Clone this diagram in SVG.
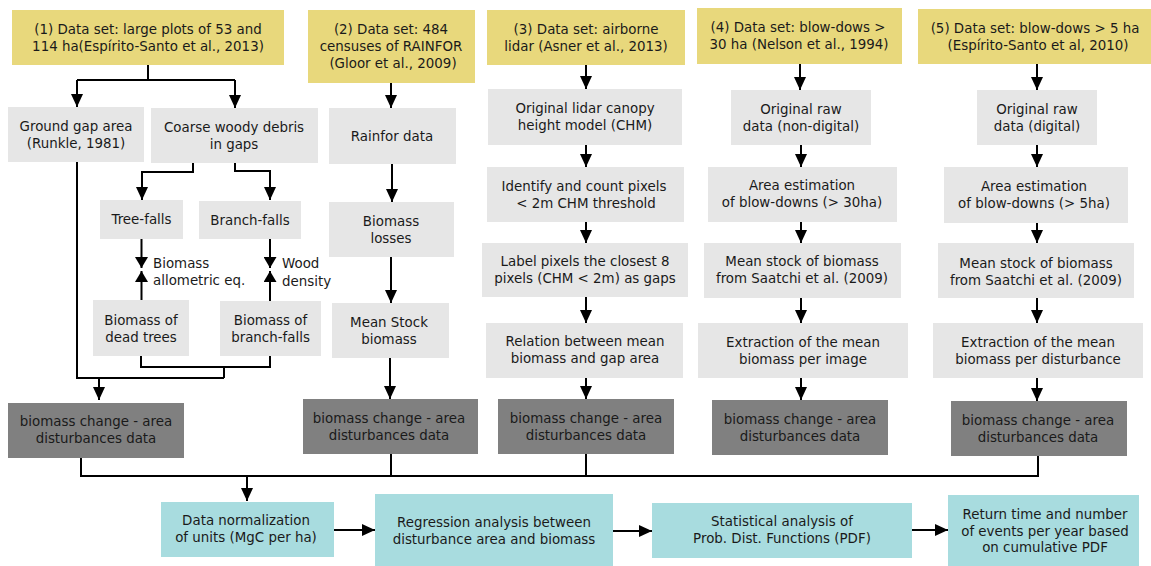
<svg xmlns="http://www.w3.org/2000/svg" width="1151" height="566" viewBox="0 0 1151 566">
<style>
text{font-family:"DejaVu Sans","Liberation Sans",sans-serif;font-size:13.4px;fill:#1a1a1a;text-anchor:middle;dominant-baseline:central}
.lab{text-anchor:start}
.y{fill:#e8d87c}
.g{fill:#e6e6e6}
.d{fill:#808080}
.t{fill:#a8dcdf}
.c{fill:none;stroke:#000;stroke-width:2}
.a{marker-end:url(#arr)}
.s{marker-end:url(#arrS)}
</style>
<defs>
<marker id="arr" viewBox="0 0 13 12" refX="13" refY="6" markerWidth="13" markerHeight="12" markerUnits="userSpaceOnUse" orient="auto"><path d="M0,0 L13,6 L0,12 z" fill="#000"/></marker>
<marker id="arrS" viewBox="0 0 11 13" refX="11" refY="6.5" markerWidth="11" markerHeight="13" markerUnits="userSpaceOnUse" orient="auto"><path d="M0,0 L11,6.5 L0,13 z" fill="#000"/></marker>
</defs>
<rect width="1151" height="566" fill="#fff"/>

<g id="connectors">
<path class="c" d="M148,65 V80 M77,80 H235"/>
<path class="c a" d="M77,80 V107"/>
<path class="c a" d="M235,80 V108"/>
<path class="c a" d="M193,163 V172 H142 V200"/>
<path class="c a" d="M235,163 V171 H270 V200"/>
<path class="c s" d="M141.5,239 V268"/>
<path class="c s" d="M141.5,300 V271"/>
<path class="c s" d="M270,239 V268"/>
<path class="c s" d="M270,301 V271"/>
<path class="c" d="M141,356 V367 H270 V356 M224,367 V378 M77,162 V378 H224"/>
<path class="c a" d="M99,378 V400"/>
<path class="c a" d="M391,83 V108"/>
<path class="c a" d="M392,164 V202"/>
<path class="c a" d="M391,257 V303"/>
<path class="c a" d="M390,358 V399"/>
<path class="c a" d="M586,65 V89"/>
<path class="c a" d="M586,145 V167"/>
<path class="c a" d="M586,222 V243"/>
<path class="c a" d="M586,297 V323"/>
<path class="c a" d="M586,378 V399"/>
<path class="c a" d="M800,64 V90"/>
<path class="c a" d="M801,145 V167"/>
<path class="c a" d="M801,222 V243"/>
<path class="c a" d="M801,298 V323"/>
<path class="c a" d="M801,378 V400"/>
<path class="c a" d="M1037,64 V90"/>
<path class="c a" d="M1037,145 V167"/>
<path class="c a" d="M1037,223 V243"/>
<path class="c a" d="M1037,298 V323"/>
<path class="c a" d="M1037,378 V401"/>
<path class="c" d="M81,457 V476 H1038 V456 M391,454 V476 M586,454 V476"/>
<path class="c a" d="M247,476 V501"/>
<path class="c a" d="M334,530 H375"/>
<path class="c a" d="M613,531 H652"/>
<path class="c a" d="M912,530 H948"/>
<text class="lab" x="153" y="263">Biomass</text>
<text class="lab" x="153" y="280">allometric eq.</text>
<text class="lab" x="282" y="263">Wood</text>
<text class="lab" x="282" y="281">density</text>
</g>

<g id="ds1"><rect class="y" x="12" y="10" width="272" height="55"/><text x="148" y="29">(1) Data set: large plots of 53 and</text><text x="148" y="46">114 ha(Espírito-Santo et al., 2013)</text></g>
<g id="ground"><rect class="g" x="8" y="107" width="136" height="55"/><text x="76" y="126">Ground gap area</text><text x="76" y="143">(Runkle, 1981)</text></g>
<g id="cwd"><rect class="g" x="151" y="108" width="167" height="55"/><text x="234" y="127">Coarse woody debris</text><text x="234" y="144">in gaps</text></g>
<g id="treefalls"><rect class="g" x="100" y="200" width="83" height="39"/><text x="141.5" y="219.5">Tree-falls</text></g>
<g id="branchfalls"><rect class="g" x="199" y="201" width="102" height="38"/><text x="250" y="220">Branch-falls</text></g>
<g id="deadtrees"><rect class="g" x="93" y="300" width="96" height="56"/><text x="141" y="320">Biomass of</text><text x="141" y="337">dead trees</text></g>
<g id="bbranch"><rect class="g" x="220" y="301" width="101" height="55"/><text x="270.5" y="320">Biomass of</text><text x="270.5" y="337">branch-falls</text></g>
<g id="dark1"><rect class="d" x="8" y="403" width="176" height="55"/><text x="96" y="421">biomass change - area</text><text x="96" y="438">disturbances data</text></g>

<g id="ds2"><rect class="y" x="308" y="10" width="167" height="73"/><text x="391" y="29">(2) Data set: 484</text><text x="391" y="46">censuses of RAINFOR</text><text x="393" y="63">(Gloor et al., 2009)</text></g>
<g id="rainfor"><rect class="g" x="329" y="108" width="127" height="56"/><text x="392" y="136">Rainfor data</text></g>
<g id="losses"><rect class="g" x="329" y="202" width="125" height="55"/><text x="391" y="221">Biomass</text><text x="391" y="238">losses</text></g>
<g id="meanstock"><rect class="g" x="332" y="303" width="117" height="55"/><text x="389" y="322">Mean Stock</text><text x="389" y="339">biomass</text></g>
<g id="dark2"><rect class="d" x="303" y="399" width="175" height="55"/><text x="389" y="418">biomass change - area</text><text x="389" y="435">disturbances data</text></g>

<g id="ds3"><rect class="y" x="487" y="10" width="198" height="55"/><text x="586" y="29">(3) Data set: airborne</text><text x="586" y="46">lidar (Asner et al., 2013)</text></g>
<g id="chm"><rect class="g" x="488" y="89" width="194" height="56"/><text x="585" y="108">Original lidar canopy</text><text x="585" y="125">height model (CHM)</text></g>
<g id="identify"><rect class="g" x="487" y="167" width="197" height="55"/><text x="584" y="186">Identify and count pixels</text><text x="586" y="203">&lt; 2m CHM threshold</text></g>
<g id="labelpx"><rect class="g" x="482" y="243" width="206" height="54"/><text x="585" y="261">Label pixels the closest 8</text><text x="585" y="278">pixels (CHM &lt; 2m) as gaps</text></g>
<g id="relation"><rect class="g" x="486" y="323" width="197" height="55"/><text x="585" y="341">Relation between mean</text><text x="585" y="358">biomass and gap area</text></g>
<g id="dark3"><rect class="d" x="498" y="399" width="176" height="55"/><text x="586" y="418">biomass change - area</text><text x="586" y="435">disturbances data</text></g>

<g id="ds4"><rect class="y" x="697" y="8" width="205" height="56"/><text x="798" y="27">(4) Data set: blow-dows &gt;</text><text x="799" y="44">30 ha (Nelson et al., 1994)</text></g>
<g id="raw4"><rect class="g" x="731" y="90" width="140" height="55"/><text x="801" y="109">Original raw</text><text x="801" y="126">data (non-digital)</text></g>
<g id="area4"><rect class="g" x="708" y="167" width="189" height="55"/><text x="802" y="185">Area estimation</text><text x="802" y="202">of blow-downs (&gt; 30ha)</text></g>
<g id="mean4"><rect class="g" x="704" y="243" width="197" height="55"/><text x="802" y="261">Mean stock of biomass</text><text x="802" y="278">from Saatchi et al. (2009)</text></g>
<g id="extr4"><rect class="g" x="698" y="323" width="210" height="55"/><text x="803" y="342">Extraction of the mean</text><text x="803" y="359">biomass per image</text></g>
<g id="dark4"><rect class="d" x="712" y="400" width="176" height="55"/><text x="800" y="419">biomass change - area</text><text x="800" y="436">disturbances data</text></g>

<g id="ds5"><rect class="y" x="918" y="9" width="233" height="55"/><text x="1035" y="28">(5) Data set: blow-dows &gt; 5 ha</text><text x="1038" y="45">(Espírito-Santo et al, 2010)</text></g>
<g id="raw5"><rect class="g" x="977" y="90" width="120" height="55"/><text x="1037" y="109">Original raw</text><text x="1037" y="126">data (digital)</text></g>
<g id="area5"><rect class="g" x="944" y="167" width="184" height="56"/><text x="1034" y="186">Area estimation</text><text x="1034" y="203">of blow-downs (&gt; 5ha)</text></g>
<g id="mean5"><rect class="g" x="938" y="243" width="196" height="55"/><text x="1036" y="263">Mean stock of biomass</text><text x="1036" y="280">from Saatchi et al. (2009)</text></g>
<g id="extr5"><rect class="g" x="933" y="323" width="210" height="55"/><text x="1038" y="342">Extraction of the mean</text><text x="1038" y="359">biomass per disturbance</text></g>
<g id="dark5"><rect class="d" x="951" y="401" width="176" height="55"/><text x="1038" y="420">biomass change - area</text><text x="1038" y="437">disturbances data</text></g>

<g id="norm"><rect class="t" x="161" y="502" width="173" height="55"/><text x="246" y="520">Data normalization</text><text x="246" y="537">of units (MgC per ha)</text></g>
<g id="regr"><rect class="t" x="375" y="494" width="238" height="73"/><text x="494" y="522">Regression analysis between</text><text x="494" y="539">disturbance area and biomass</text></g>
<g id="stat"><rect class="t" x="652" y="503" width="260" height="55"/><text x="782" y="521">Statistical analysis of</text><text x="782" y="538">Prob. Dist. Functions (PDF)</text></g>
<g id="ret"><rect class="t" x="948" y="495" width="191" height="72"/><text x="1045" y="514">Return time and number</text><text x="1045" y="531">of events per year based</text><text x="1045" y="547">on cumulative PDF</text></g>
</svg>
